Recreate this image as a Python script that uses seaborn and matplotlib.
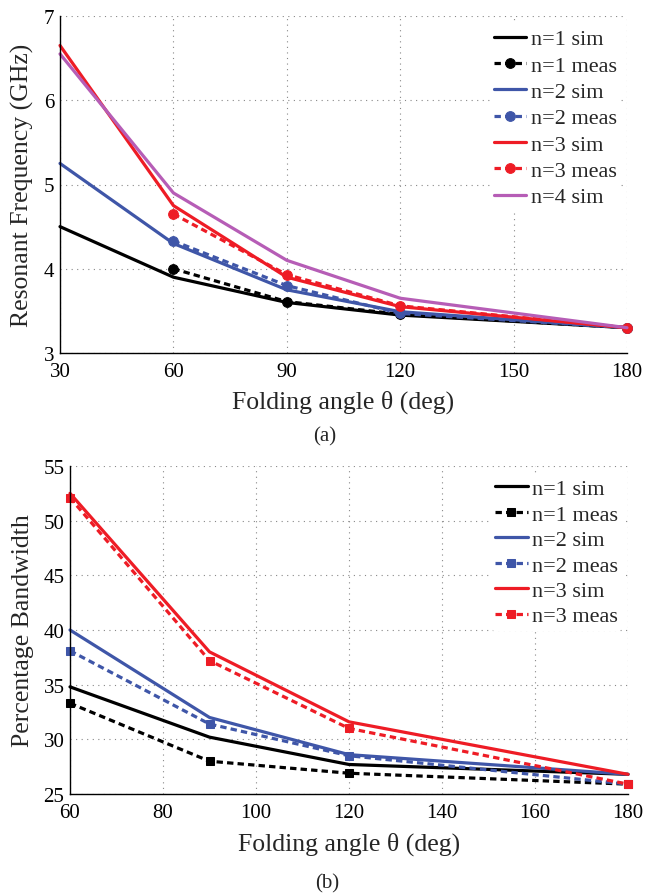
import matplotlib
matplotlib.use("Agg")
import matplotlib.pyplot as plt
import seaborn as sns
import pandas as pd

# ---------------- data ----------------
angles_a = [30, 60, 90, 120, 180]
freq_n1_sim = [4.50, 3.90, 3.60, 3.45, 3.30]
freq_n2_sim = [5.25, 4.30, 3.75, 3.49, 3.30]
freq_n3_sim = [6.65, 4.75, 3.90, 3.55, 3.30]
freq_n4_sim = [6.55, 4.90, 4.10, 3.65, 3.30]
angles_a_meas = [60, 90, 120, 180]
freq_n1_meas = [4.00, 3.61, 3.46, 3.30]
freq_n2_meas = [4.33, 3.80, 3.47, 3.30]
freq_n3_meas = [4.65, 3.93, 3.56, 3.30]
xticks_a = [30, 60, 90, 120, 150, 180]
yticks_a = [3, 4, 5, 6, 7]

angles_b = [60, 90, 120, 180]
bw_n1_sim = [34.8, 30.2, 27.7, 26.8]
bw_n2_sim = [40.0, 32.0, 28.6, 26.8]
bw_n3_sim = [52.5, 38.0, 31.6, 26.8]
bw_n1_meas = [33.3, 28.0, 26.9, 25.9]
bw_n2_meas = [38.1, 31.4, 28.5, 25.9]
bw_n3_meas = [52.1, 37.2, 31.0, 25.9]
xticks_b = [60, 80, 100, 120, 140, 160, 180]
yticks_b = [25, 30, 35, 40, 45, 50, 55]

BLACK = "#000000"
BLUE = "#3F56A8"
RED = "#EE1C25"
PURPLE = "#B65DB6"

sns.set_style("white")
plt.rcParams["font.family"] = ["Liberation Serif", "DejaVu Serif"]
plt.rcParams["mathtext.fontset"] = "stix"

fig = plt.figure(figsize=(6.45, 8.95), dpi=100)

W, H = 645, 895
def box(l, t, r, b):
    return [l / W, 1 - b / H, (r - l) / W, (b - t) / H]

ax1 = fig.add_axes(box(60, 17, 627, 354))
ax2 = fig.add_axes(box(70, 467, 628, 795))

LW = 2.3
DASH = (2.0, 1.3)

def sim(ax, x, y, c, label):
    sns.lineplot(x=x, y=y, ax=ax, color=c, lw=LW, label=label, sort=False)

def meas(ax, x, y, c, label, marker, ms):
    sns.lineplot(x=x, y=y, ax=ax, color=c, lw=LW, label=label, sort=False,
                 marker=marker, markersize=ms, markeredgecolor=c,
                 markerfacecolor=c, dashes=False)
    ax.lines[-1].set_dashes(DASH)

# ----- panel (a) -----
sim(ax1, angles_a, freq_n1_sim, BLACK, "n=1 sim")
meas(ax1, angles_a_meas, freq_n1_meas, BLACK, "n=1 meas", "o", 7)
sim(ax1, angles_a, freq_n2_sim, BLUE, "n=2 sim")
meas(ax1, angles_a_meas, freq_n2_meas, BLUE, "n=2 meas", "o", 7)
sim(ax1, angles_a, freq_n3_sim, RED, "n=3 sim")
meas(ax1, angles_a_meas, freq_n3_meas, RED, "n=3 meas", "o", 7)
sim(ax1, angles_a, freq_n4_sim, PURPLE, "n=4 sim")

ax1.set_xlim(30, 180)
ax1.set_ylim(3, 7)
ax1.set_xticks(xticks_a)
ax1.set_yticks(yticks_a)
ax1.set_xlabel("Folding angle θ (deg)", fontsize=18.5, labelpad=6)
ax1.set_ylabel("Resonant Frequency (GHz)", fontsize=18.5, labelpad=7)

# ----- panel (b) -----
sim(ax2, angles_b, bw_n1_sim, BLACK, "n=1 sim")
meas(ax2, angles_b, bw_n1_meas, BLACK, "n=1 meas", "s", 5.5)
sim(ax2, angles_b, bw_n2_sim, BLUE, "n=2 sim")
meas(ax2, angles_b, bw_n2_meas, BLUE, "n=2 meas", "s", 5.5)
sim(ax2, angles_b, bw_n3_sim, RED, "n=3 sim")
meas(ax2, angles_b, bw_n3_meas, RED, "n=3 meas", "s", 5.5)

ax2.set_xlim(60, 180)
ax2.set_ylim(25, 55)
ax2.set_xticks(xticks_b)
ax2.set_yticks(yticks_b)
ax2.set_xlabel("Folding angle θ (deg)", fontsize=18.5, labelpad=7)
ax2.set_ylabel("Percentage Bandwidth", fontsize=18.5, labelpad=7)

for ax, spacing in ((ax1, 0.26), (ax2, 0.22)):
    for s in ("top", "right"):
        ax.spines[s].set_visible(False)
    for s in ("left", "bottom"):
        ax.spines[s].set_color("black")
        ax.spines[s].set_linewidth(1.0)
    ax.grid(True, color="#888888", lw=0.8, linestyle=(0, (1, 4)))
    ax.tick_params(axis="both", direction="in", length=4, width=0.8,
                   labelsize=15, colors="black")
    ax.tick_params(axis="x", pad=6.5)
    ax.tick_params(axis="y", pad=4)
    ax.set_axisbelow(True)
    for ln in ax.lines:
        ln.set_clip_on(False)
    leg = ax.legend(loc="upper right", bbox_to_anchor=(0.99, 0.975),
                    fontsize=16, frameon=True, framealpha=1,
                    facecolor="white", edgecolor="none",
                    handlelength=1.45, handletextpad=0.2,
                    labelspacing=spacing, borderpad=0.2, borderaxespad=0.0)
    for h in leg.get_lines():
        h.set_linewidth(LW)

fig.text(325 / W, 1 - 437 / H, "(a)", ha="center", va="center", fontsize=15)
fig.text(327 / W, 1 - 884 / H, "(b)", ha="center", va="center", fontsize=15)

fig.savefig("out.png", dpi=100)
